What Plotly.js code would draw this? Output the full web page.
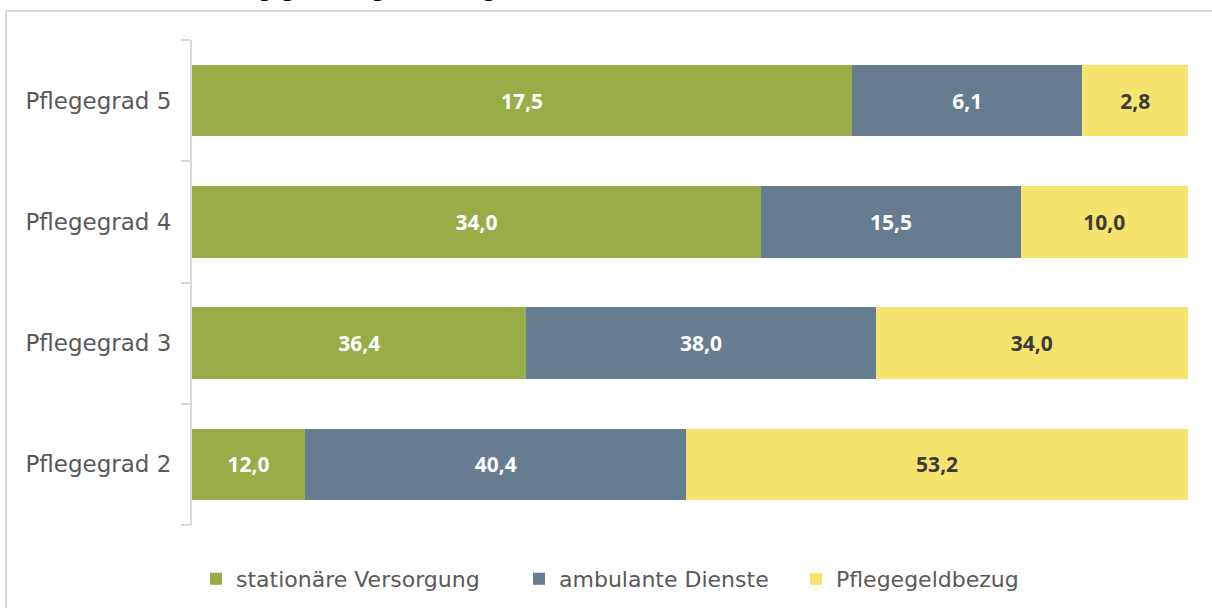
<!DOCTYPE html>
<html>
<head>
<meta charset="utf-8">
<script src="https://cdn.plot.ly/plotly-3.0.1.min.js"></script>
<style>html,body{margin:0;padding:0;background:#fff;}#chart{width:1212px;height:608px;}</style>
</head>
<body>
<div id="chart"></div>
<script>
const categories = ['Pflegegrad 2', 'Pflegegrad 3', 'Pflegegrad 4', 'Pflegegrad 5'];
const seriesNames = ['stationäre Versorgung', 'ambulante Dienste', 'Pflegegeldbezug'];
const stationaer = [12.0, 36.4, 34.0, 17.5];
const ambulant = [40.4, 38.0, 15.5, 6.1];
const pflegegeld = [53.2, 34.0, 10.0, 2.8];
const titleText = 'Pflegegradkategorien – Angaben in %';

const colors = ['#98ac48', '#667c91', '#f6e46e'];
const textColors = ['#ffffff', '#ffffff', '#3b3b3b'];
const fmt = v => v.toFixed(1).replace('.', ',');

const W = 1212, H = 608;
const L = 192, R = 24, T = 40, B = 83;
const pw = W - L - R, ph = H - T - B;
const px = x => (x - L) / pw;
const py = y => 1 - (y - T) / ph;

const legendNames = ['legend', 'legend2', 'legend3'];
const legendX = [196, 519, 796];

const data = [stationaer, ambulant, pflegegeld].map((vals, i) => ({
  type: 'bar',
  orientation: 'h',
  name: seriesNames[i],
  legend: legendNames[i],
  y: categories,
  x: vals,
  text: vals.map(fmt),
  textposition: 'inside',
  insidetextanchor: 'middle',
  textangle: 0,
  textfont: {family: 'Open Sans, DejaVu Sans, sans-serif', size: 21, color: textColors[i], weight: 'bold'},
  marker: {color: colors[i], line: {width: 0}},
  hoverinfo: 'skip'
}));

const legendBase = i => ({
  orientation: 'h',
  x: px(legendX[i]), xanchor: 'left',
  y: py(579), yanchor: 'middle',
  font: {family: 'DejaVu Sans, sans-serif', size: 22, color: '#595959'},
  bgcolor: 'rgba(0,0,0,0)',
  itemclick: false
});

const layout = {
  width: W, height: H,
  margin: {l: L, r: R, t: T, b: B, pad: 0, autoexpand: false},
  paper_bgcolor: '#ffffff',
  plot_bgcolor: '#ffffff',
  barmode: 'stack',
  barnorm: 'percent',
  bargap: 0.41,
  showlegend: true,
  legend: legendBase(0),
  legend2: legendBase(1),
  legend3: legendBase(2),
  xaxis: {
    range: [0, 100], showgrid: false, zeroline: false, showline: false,
    showticklabels: false, ticks: '', fixedrange: true
  },
  yaxis: {
    type: 'category',
    showline: true, linecolor: '#d9d9d9', linewidth: 2,
    ticks: 'outside', ticklen: 9, tickcolor: '#d9d9d9', tickwidth: 2,
    tickson: 'boundaries',
    showgrid: false, zeroline: false,
    tickfont: {family: 'DejaVu Sans, sans-serif', size: 23, color: '#595959'},
    ticklabelstandoff: 14,
    fixedrange: true
  },
  shapes: [
    {type: 'line', xref: 'paper', yref: 'paper', x0: px(6), x1: px(1230), y0: py(11), y1: py(11), line: {color: '#d9d9d9', width: 2}},
    {type: 'line', xref: 'paper', yref: 'paper', x0: px(6), x1: px(6), y0: py(11), y1: py(640), line: {color: '#d9d9d9', width: 2}}
  ],
  annotations: [
    {xref: 'paper', yref: 'paper', x: px(406), y: py(-11), xanchor: 'center', yanchor: 'middle',
     text: '<b>' + titleText + '</b>', showarrow: false,
     font: {family: 'Open Sans, DejaVu Sans, sans-serif', size: 20, color: '#000000'}}
  ]
};

Plotly.newPlot('chart', data, layout, {displayModeBar: false, staticPlot: true});
</script>
</body>
</html>
